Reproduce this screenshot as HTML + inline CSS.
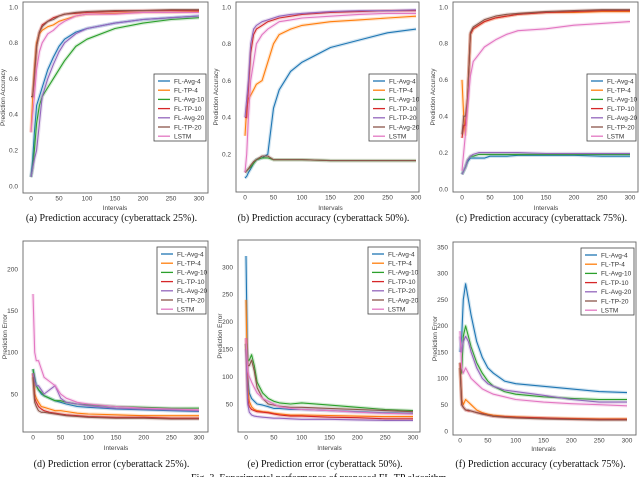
<!DOCTYPE html>
<html><head><meta charset="utf-8">
<style>
html,body{margin:0;padding:0;background:#fff;width:640px;height:477px;overflow:hidden}
svg{display:block}
.tk{font-family:"Liberation Sans",sans-serif;font-size:6.5px;fill:#444}
.ax{font-family:"Liberation Sans",sans-serif;font-size:6.5px;fill:#444}
.lg{font-family:"Liberation Sans",sans-serif;font-size:6.5px;fill:#333}
.cap{font-family:"Liberation Serif",serif;font-size:10px;fill:#111}
</style></head><body>
<svg id="fig" width="640" height="477" viewBox="0 0 640 477"></svg>
<script>
const xs=[0,3,6,10,15,20,30,40,50,60,80,100,150,200,250,300];
const colors=['#1f77b4','#ff7f0e','#2ca02c','#d62728','#9467bd','#8c564b','#e377c2'];
const labelsStd=['FL-Avg-4','FL-TP-4','FL-Avg-10','FL-TP-10','FL-Avg-20','FL-TP-20','LSTM'];
const labelsAlt=['FL-Avg-4','FL-TP-4','FL-Avg-10','FL-TP-10','FL-TP-20','FL-Avg-20','LSTM'];
const xTicks=[0,50,100,150,200,250,300];
const accTicks=[0.0,0.2,0.4,0.6,0.8,1.0];
const errTicksD=[50,100,150,200];
const errTicksE=[50,100,150,200,250,300];
const errTicksF=[0,50,100,150,200,250,300,350];
const dataA=[
[0.05,0.15,0.3,0.45,0.5,0.55,0.65,0.72,0.78,0.82,0.86,0.88,0.91,0.93,0.94,0.95],
[0.3,0.5,0.65,0.8,0.85,0.87,0.89,0.9,0.92,0.93,0.95,0.96,0.965,0.97,0.97,0.975],
[0.05,0.1,0.2,0.35,0.45,0.5,0.55,0.6,0.65,0.7,0.78,0.82,0.88,0.91,0.93,0.94],
[0.5,0.5,0.6,0.78,0.86,0.9,0.92,0.94,0.95,0.96,0.965,0.97,0.975,0.98,0.98,0.98],
[0.05,0.1,0.15,0.2,0.35,0.5,0.6,0.68,0.75,0.8,0.85,0.88,0.91,0.93,0.94,0.95],
[0.5,0.5,0.62,0.78,0.86,0.89,0.92,0.93,0.95,0.96,0.97,0.975,0.98,0.98,0.985,0.985],
[0.3,0.4,0.5,0.65,0.75,0.8,0.85,0.87,0.9,0.92,0.95,0.96,0.96,0.97,0.97,0.97]];
const dataB=[
[0.07,0.08,0.1,0.12,0.15,0.17,0.18,0.2,0.45,0.55,0.65,0.7,0.78,0.82,0.86,0.88],
[0.3,0.45,0.5,0.52,0.55,0.58,0.6,0.7,0.8,0.85,0.88,0.9,0.92,0.93,0.94,0.95],
[0.1,0.11,0.12,0.13,0.15,0.17,0.18,0.18,0.17,0.17,0.17,0.17,0.165,0.165,0.165,0.165],
[0.4,0.4,0.55,0.75,0.85,0.88,0.9,0.92,0.93,0.94,0.95,0.96,0.97,0.975,0.98,0.98],
[0.4,0.5,0.6,0.8,0.88,0.9,0.92,0.93,0.94,0.95,0.96,0.965,0.975,0.98,0.98,0.985],
[0.1,0.11,0.12,0.14,0.16,0.17,0.19,0.19,0.17,0.17,0.17,0.17,0.165,0.165,0.165,0.165],
[0.1,0.2,0.4,0.6,0.7,0.8,0.85,0.88,0.9,0.92,0.93,0.94,0.95,0.96,0.965,0.965]];
const dataC=[
[0.08,0.1,0.12,0.15,0.17,0.17,0.17,0.17,0.18,0.18,0.18,0.185,0.185,0.185,0.18,0.18],
[0.6,0.4,0.3,0.5,0.85,0.88,0.9,0.92,0.93,0.94,0.95,0.96,0.97,0.97,0.975,0.975],
[0.08,0.1,0.12,0.16,0.18,0.18,0.19,0.19,0.19,0.19,0.19,0.19,0.19,0.19,0.19,0.19],
[0.28,0.35,0.35,0.5,0.85,0.88,0.9,0.92,0.93,0.94,0.95,0.96,0.97,0.975,0.98,0.98],
[0.08,0.1,0.12,0.16,0.18,0.19,0.2,0.2,0.2,0.2,0.2,0.2,0.195,0.195,0.195,0.195],
[0.3,0.4,0.4,0.5,0.86,0.89,0.91,0.93,0.94,0.95,0.96,0.965,0.975,0.98,0.985,0.985],
[0.1,0.2,0.3,0.45,0.62,0.7,0.74,0.78,0.8,0.82,0.85,0.87,0.88,0.9,0.91,0.92]];
const dataD=[
[80,70,60,55,50,48,45,42,40,38,35,34,32,31,30,29],
[75,50,45,40,35,34,32,30,30,29,27,26,25,24,24,24],
[80,65,60,55,52,48,45,42,42,40,38,37,35,34,33,33],
[75,45,40,35,32,30,28,27,26,25,24,23,22,22,21,21],
[75,65,60,60,55,50,55,60,45,40,38,36,33,32,31,30],
[70,40,35,30,28,28,27,26,25,24,23,22,21,21,20,20],
[170,100,90,90,80,70,65,60,50,45,40,38,35,33,32,31]];
const dataE=[
[320,100,70,60,55,50,48,45,42,42,40,40,38,36,34,33],
[240,80,55,45,40,38,36,35,33,32,30,30,29,28,27,27],
[160,130,130,140,120,90,70,60,55,52,50,52,48,44,40,38],
[170,60,45,40,38,36,35,34,32,30,28,28,26,25,23,23],
[150,50,35,30,28,27,26,25,24,24,23,22,22,21,20,20],
[160,120,120,130,110,80,60,50,48,46,44,44,42,40,38,36],
[170,110,100,90,80,70,60,55,50,45,42,40,38,35,33,32]];
const dataF=[
[150,180,250,280,250,220,170,140,120,110,95,90,85,80,75,73],
[120,60,50,60,55,50,40,35,32,30,28,27,25,24,23,23],
[130,110,180,200,180,160,130,110,95,85,75,70,65,62,60,60],
[130,50,45,40,38,38,35,33,30,28,27,26,25,23,22,22],
[180,150,170,180,170,150,120,100,90,85,78,75,68,60,55,55],
[120,50,45,40,40,38,35,32,30,28,26,25,23,22,21,21],
[190,120,110,120,110,100,90,80,75,70,65,60,55,52,50,48]];

const NS='http://www.w3.org/2000/svg';
const svg=document.getElementById('fig');
function mk(tag,attrs,parent,text){const e=document.createElementNS(NS,tag);for(const k in attrs)e.setAttribute(k,attrs[k]);if(text!==undefined)e.textContent=text;(parent||svg).appendChild(e);return e;}

const panels=[
{id:'a',fx:23,fy:2,fw:185,fh:191,x0:31,x1:199,v0:0,p0:186,v1:1,p1:7,yt:accTicks,dec:1,data:dataA,labels:labelsStd,lg:[154,74],yl:'Prediction Accuracy',cap:'(a) Prediction accuracy (cyberattack 25%).',capY:221,xlY:210},
{id:'b',fx:236,fy:2,fw:183,fh:190,x0:245,x1:416,v0:0,p0:191,v1:1,p1:7,yt:accTicks.slice(1),dec:1,data:dataB,labels:labelsAlt,lg:[369,74],yl:'Prediction Accuracy',cap:'(b) Prediction accuracy (cyberattack 50%).',capY:221,xlY:210},
{id:'c',fx:453,fy:2,fw:185,fh:190,x0:462,x1:630,v0:0,p0:189,v1:1,p1:7,yt:accTicks,dec:1,data:dataC,labels:labelsStd,lg:[587,74],yl:'Prediction Accuracy',cap:'(c) Prediction accuracy (cyberattack 75%).',capY:221,xlY:210},
{id:'d',fx:23,fy:241,fw:185,fh:191,x0:33,x1:199,v0:50,p0:394,v1:200,p1:269,yt:errTicksD,dec:0,data:dataD,labels:labelsStd,lg:[157,247],yl:'Prediction Error',cap:'(d) Prediction error (cyberattack 25%).',capY:467,xlY:450},
{id:'e',fx:238,fy:240,fw:182,fh:192,x0:246,x1:413,v0:50,p0:404,v1:300,p1:267,yt:errTicksE,dec:0,data:dataE,labels:labelsAlt,lg:[368,247],yl:'Prediction Error',cap:'(e) Prediction error (cyberattack 50%).',capY:467,xlY:450},
{id:'f',fx:453,fy:242,fw:183,fh:193,x0:460,x1:627,v0:0,p0:431,v1:350,p1:247,yt:errTicksF,dec:0,data:dataF,labels:labelsStd,lg:[581,248],yl:'Prediction Error',cap:'(f) Prediction accuracy (cyberattack 75%).',capY:467,xlY:451}];

panels.forEach(P=>{
  const g=mk('g',{});
  
  
  const sx=v=>P.x0+(P.x1-P.x0)*v/300;
  const sy=v=>P.p0+(P.p1-P.p0)*(v-P.v0)/(P.v1-P.v0);
  const clipId='clip'+P.id;
  const cp=mk('clipPath',{id:clipId},g);mk('rect',{x:P.fx,y:P.fy,width:P.fw,height:P.fh},cp);
  const lines=mk('g',{'clip-path':'url(#'+clipId+')'},g);
  P.data.forEach((ser,i)=>{
    const d=ser.map((v,j)=>(j?'L':'M')+sx(xs[j]).toFixed(1)+','+sy(v).toFixed(1)).join('');
    const band=mk('path',{d:d,fill:'none',stroke:colors[i],'stroke-width':3.5,'stroke-opacity':0.2,'stroke-linejoin':'round'},lines);
    
    
    const ln=mk('path',{d:d,fill:'none',stroke:colors[i],'stroke-width':1.1,'stroke-linejoin':'round'},lines);
    
    
  });
  const fr=mk('rect',{x:P.fx,y:P.fy,width:P.fw,height:P.fh,fill:'none',stroke:'#666','stroke-width':0.9},g);
  
  
  xTicks.forEach(t=>{
    const tx=mk('text',{x:sx(t),y:P.fy+P.fh+7.5,'text-anchor':'middle',class:'tk'},g,String(t));
    
    
  });
  P.yt.forEach(t=>{
    const ty=mk('text',{x:P.fx-5,y:sy(t)+2.3,'text-anchor':'end',class:'tk'},g,t.toFixed(P.dec));
    
    
  });
  const xl=mk('text',{x:(P.x0+P.x1)/2,y:P.xlY,'text-anchor':'middle',class:'ax'},g,'Intervals');
  
  
  const yx=P.fx-(P.dec?18:16), yy=P.fy+P.fh/2;
  const yl=mk('text',{x:yx,y:yy,'text-anchor':'middle',class:'ax',transform:'rotate(-90 '+yx+' '+yy+')'},g,P.yl);
  
  
  const cap=mk('text',{x:P.fx+P.fw/2-4,y:P.capY,'text-anchor':'middle',class:'cap'},g,P.cap);
  
  
  const lgw=(P.fx+P.fw)-P.lg[0]-2, lgh=67;
  const lg=mk('g',{},g);
  
  
  mk('rect',{x:P.lg[0],y:P.lg[1],width:lgw,height:lgh,fill:'#fff',stroke:'#444','stroke-width':0.8},lg);
  P.labels.forEach((lab,i)=>{
    const yy2=P.lg[1]+7+i*9.2;
    const it=mk('g',{},lg);
    
    
    mk('line',{x1:P.lg[0]+4,x2:P.lg[0]+16,y1:yy2,y2:yy2,stroke:colors[i],'stroke-width':1.3},it);
    mk('text',{x:P.lg[0]+20,y:yy2+2.3,class:'lg'},it,lab);
  });
});
const fc=mk('text',{x:320,y:481,'text-anchor':'middle',class:'cap'},svg,'Fig. 3.  Experimental performance of proposed FL-TP algorithm.');


</script>
</body></html>
